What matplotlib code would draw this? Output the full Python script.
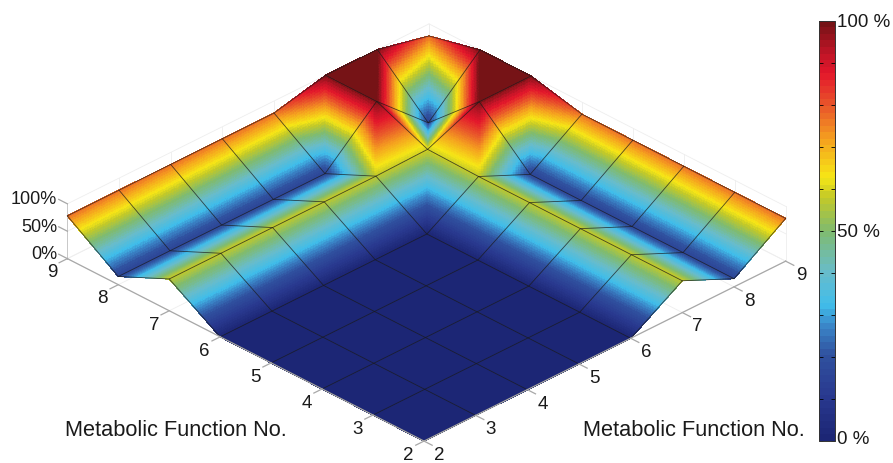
import matplotlib

matplotlib.use("Agg")
import matplotlib.pyplot as plt
import matplotlib.tri as mtri
import numpy as np
from matplotlib.cm import ScalarMappable
from matplotlib.colors import LinearSegmentedColormap, Normalize
from mpl_toolkits.mplot3d import proj3d
from mpl_toolkits.mplot3d.art3d import Poly3DCollection

plt.rcParams["font.family"] = ["Liberation Sans", "DejaVu Sans"]

functions = [2, 3, 4, 5, 6, 7, 8, 9]
# activity in %, rows = left axis function no., columns = right axis function no.
activity_2 = [0, 0, 0, 0, 0, 58, 15, 78]
activity_3 = [0, 0, 0, 0, 0, 58, 15, 78]
activity_4 = [0, 0, 0, 0, 0, 58, 15, 78]
activity_5 = [0, 0, 0, 0, 0, 58, 15, 78]
activity_6 = [0, 0, 0, 0, 0, 58, 15, 78]
activity_7 = [58, 58, 58, 58, 58, 60, 100, 100]
activity_8 = [15, 15, 15, 15, 15, 100, 14, 100]
activity_9 = [78, 78, 78, 78, 78, 100, 100, 78]
z_ticks = [0, 50, 100]
z_labels = ["0%", "50%", "100%"]
cbar_ticks = [0, 10, 20, 30, 40, 50, 60, 70, 80, 90, 100]

Z = np.array(
    [activity_2, activity_3, activity_4, activity_5, activity_6, activity_7, activity_8, activity_9],
    dtype=float,
)

stops = [
    (0.00, "#1c2675"),
    (0.10, "#29398f"),
    (0.20, "#30519f"),
    (0.27, "#3a86c8"),
    (0.32, "#40bdea"),
    (0.40, "#68bccb"),
    (0.50, "#80bb6e"),
    (0.58, "#c3c928"),
    (0.63, "#f6e616"),
    (0.72, "#f5a11f"),
    (0.80, "#e9582a"),
    (0.88, "#e3172b"),
    (0.93, "#bf1426"),
    (1.00, "#761316"),
]
cmap = LinearSegmentedColormap.from_list("activity", stops, N=512)
cmap_bar = LinearSegmentedColormap.from_list("activity_bar", stops, N=64)
norm = Normalize(0, 100)

W, H = 893, 463
fig = plt.figure(figsize=(W / 100, H / 100), dpi=100)
S = 1000
cx, cy = 413, 246
ax = fig.add_axes(
    [(cx - S / 2) / W, (H - cy - S / 2) / H, S / W, S / H], projection="3d", proj_type="ortho"
)
ax.set_axis_off()
ax.patch.set_alpha(0)
ax.computed_zorder = False
ax.view_init(elev=30.3, azim=-134.6)
ax.set_xlim(2, 9)
ax.set_ylim(2, 9)
ax.set_zlim(0, 100)
ax.set_xticks([])
ax.set_yticks([])
ax.set_zticks([])
ax.set_box_aspect((1, 1, 0.125), zoom=0.70)
ax.apply_aspect()


def label(x, y, z, text, **kwargs):
    # 3d point -> figure text, so the label stays plain 2d text
    px, py, _ = proj3d.proj_transform(x, y, z, ax.get_proj())
    fx, fy = fig.transFigure.inverted().transform(ax.transData.transform((px, py)))
    fig.text(fx, fy, text, color="#1a1a1a", va="center", **kwargs)


# left axis = y, right axis = x
X, Y = np.meshgrid(functions, functions)
n = len(functions)
tris = []
for r in range(n - 1):
    for c in range(n - 1):
        a = r * n + c
        tris.append([a, a + 1, a + n + 1])
        tris.append([a, a + n, a + n + 1])
tri = mtri.Triangulation(X.ravel().astype(float), Y.ravel().astype(float), tris)
refiner = mtri.UniformTriRefiner(tri)
fine_tri, fine_z = refiner.refine_field(
    Z.ravel(), triinterpolator=mtri.LinearTriInterpolator(tri, Z.ravel()), subdiv=5
)
verts = np.column_stack([fine_tri.x, fine_tri.y, fine_z])[fine_tri.triangles]
colors = cmap(norm(verts[:, :, 2].mean(axis=1)))

# faint walls and floor grid
faint = dict(color="#eeeeee", lw=0.6, zorder=1)
for v in functions:
    ax.plot([v, v], [2, 9], [0, 0], **faint)
    ax.plot([2, 9], [v, v], [0, 0], **faint)
    ax.plot([v, v], [9, 9], [0, 100], **faint)
    ax.plot([9, 9], [v, v], [0, 100], **faint)
for t in z_ticks:
    ax.plot([2, 9], [9, 9], [t, t], **faint)
    ax.plot([9, 9], [2, 9], [t, t], **faint)

surf = Poly3DCollection(
    verts, facecolors=colors, edgecolors=colors, linewidths=0.3, zorder=2, clip_on=False,
    antialiaseds=False,
)
ax.add_collection3d(surf)

# mesh lines on the surface
mesh = dict(color="#1a1a1a", lw=0.6, alpha=0.75, zorder=3)
for k in range(n):
    ax.plot(X[k, :], Y[k, :], Z[k, :], **mesh)
    ax.plot(X[:, k], Y[:, k], Z[:, k], **mesh)

# axes
axis = dict(color="#a8a8a8", lw=0.9, zorder=4)
ax.plot([2, 2], [2, 9], [0, 0], **axis)
ax.plot([2, 9], [2, 2], [0, 0], **axis)
ax.plot([2, 2], [9, 9], [0, 100], color="#c8c8c8", lw=0.7, zorder=1)
for v in functions:
    ax.plot([2, 1.84], [v, v], [0, 0], **axis)
    ax.plot([v, v], [2, 1.84], [0, 0], **axis)
    label(1.7, v, -12, str(v), fontsize=13.5, ha="center")
    label(v, 1.7, -12, str(v), fontsize=13.5, ha="center")
for t, lab in zip(z_ticks, z_labels):
    ax.plot([2, 2], [9, 9.17], [t, t], **axis)
    label(2, 9.2, t - 2, lab, fontsize=13, ha="right")

fig.text(65 / W, 1 - 431 / H, "Metabolic Function No.", fontsize=15.7, color="#1a1a1a", va="center")
fig.text(583 / W, 1 - 431 / H, "Metabolic Function No.", fontsize=15.7, color="#1a1a1a", va="center")

# colour bar
cax = fig.add_axes([819 / W, (H - 440.7) / H, 16 / W, 420 / H])
cb = fig.colorbar(ScalarMappable(norm=norm, cmap=cmap_bar), cax=cax, ticks=cbar_ticks)
cb.outline.set_linewidth(0.7)
cb.outline.set_edgecolor("#333333")
cax.tick_params(left=True, right=True, direction="in", length=3, width=0.6, labelright=False)
cax.text(1.15, 99.6, "100 %", transform=cax.get_yaxis_transform(), fontsize=13.5, color="#1a1a1a", va="center")
cax.text(1.15, 49.6, "50 %", transform=cax.get_yaxis_transform(), fontsize=13.5, color="#1a1a1a", va="center")
cax.text(1.15, 0.4, "0 %", transform=cax.get_yaxis_transform(), fontsize=13.5, color="#1a1a1a", va="center")

fig.savefig("out.png", dpi=100)
